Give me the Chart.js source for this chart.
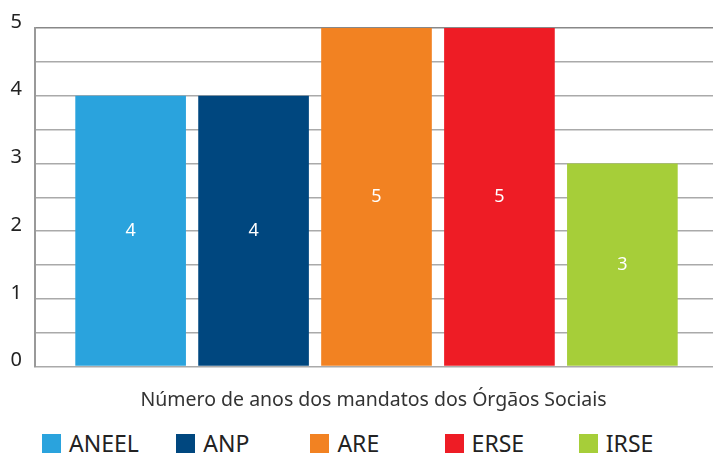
<!DOCTYPE html>
<html>
<head>
<meta charset="utf-8">
<script src="https://cdn.jsdelivr.net/npm/chart.js@4.4.1/dist/chart.umd.min.js"></script>
<style>
  html, body { margin: 0; padding: 0; background: #fff; overflow: hidden; }
  #wrap { position: relative; width: 713px; height: 426px; overflow: hidden; }
  #legend { display: flex; margin: 1px 0 0 42px; font-family: "Noto Sans", sans-serif; font-size: 23px; color: #222; }
  #legend .item { width: 147px; display: flex; align-items: center; }
  #legend .box { width: 19px; height: 19px; margin-right: 8px; }
</style>
</head>
<body>
<div id="wrap"><canvas id="myChart" width="718" height="426"></canvas></div>
<div id="legend"></div>
<script>
const categories = ['Número de anos dos mandatos dos Órgãos Sociais'];
const seriesNames = ['ANEEL', 'ANP', 'ARE', 'ERSE', 'IRSE'];
const seriesValues = [4, 4, 5, 5, 3];
const seriesColors = ['#2AA3DD', '#00477F', '#F28222', '#EE1C25', '#A6CE39'];

const valueLabels = {
    id: 'valueLabels',
    afterDatasetsDraw(chart) {
        const c = chart.ctx;
        c.save();
        c.fillStyle = '#fff';
        c.font = '18px "Noto Sans", sans-serif';
        c.textAlign = 'center';
        c.textBaseline = 'middle';
        chart.data.datasets.forEach((ds, i) => {
            chart.getDatasetMeta(i).data.forEach((bar, j) => {
                c.fillText(ds.data[j], bar.x, (bar.y + bar.base) / 2);
            });
        });
        c.restore();
    }
};

const ctx = document.getElementById('myChart').getContext('2d');
const myChart = new Chart(ctx, {
    type: 'bar',
    data: {
        labels: categories,
        datasets: seriesNames.map((name, i) => ({
            label: name,
            data: [seriesValues[i]],
            backgroundColor: seriesColors[i],
            borderWidth: 0
        }))
    },
    options: {
        responsive: false,
        animation: false,
        categoryPercentage: 0.9,
        barPercentage: 0.9,
        layout: { padding: { top: 28, right: 0, left: 0, bottom: 0 } },
        plugins: {
            legend: { display: false },
            tooltip: { enabled: false }
        },
        scales: {
            x: {
                grid: { display: false },
                border: { display: false },
                ticks: {
                    color: '#333',
                    padding: 14,
                    labelOffset: -3,
                    font: { family: '"Noto Sans", sans-serif', size: 19.5 }
                }
            },
            y: {
                min: 0,
                max: 5,
                afterFit(scale) { scale.width = 35; },
                border: { color: '#999', width: 2 },
                grid: {
                    color: (c) => c.tick && c.tick.value === 5 ? '#888' : '#aaa',
                    lineWidth: 1.5,
                    drawTicks: false
                },
                ticks: {
                    stepSize: 0.5,
                    padding: 13,
                    labelOffset: -6,
                    color: '#222',
                    font: { family: '"Noto Sans", sans-serif', size: 20 },
                    callback: (v) => Number.isInteger(v) ? v : ''
                }
            }
        }
    },
    plugins: [valueLabels]
});

const legend = document.getElementById('legend');
myChart.data.datasets.forEach((ds) => {
    const item = document.createElement('div');
    item.className = 'item';
    item.innerHTML = '<span class="box" style="background:' + ds.backgroundColor + '"></span>' + ds.label;
    legend.appendChild(item);
});
</script>
</body>
</html>
